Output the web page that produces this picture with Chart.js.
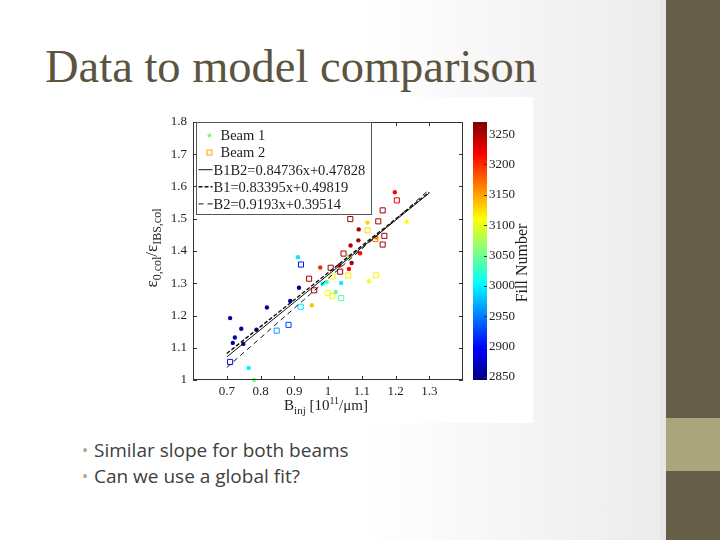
<!DOCTYPE html>
<html>
<head>
<meta charset="utf-8">
<title>Data to model comparison</title>
<script src="https://cdn.jsdelivr.net/npm/chart.js@4.4.1/dist/chart.umd.min.js"></script>
<style>
  html, body { margin: 0; padding: 0; }
  body { width: 720px; height: 540px; overflow: hidden; background: #fff; }
  #slide { position: relative; width: 720px; height: 540px; }
  #fundo { position: absolute; left: 0; top: 0; width: 660px; height: 540px;
    background: linear-gradient(to right, #ffffff 0%, #ffffff 55%, #ececec 100%); }
  #faixa { position: absolute; left: 660px; top: 0; width: 6px; height: 540px; background: #e6e6e6; }
  #lateral { position: absolute; left: 666px; top: 0; width: 54px; height: 540px; background: #665e48; }
  #lateralClara { position: absolute; left: 666px; top: 418px; width: 54px; height: 53px; background: #a9a67e; }
  h1 { position: absolute; left: 45px; top: 44px; margin: 0; font: 400 46.5px/46px 'Liberation Serif', serif;
    color: #5c5440; white-space: nowrap; }
  #figura { position: absolute; left: 140px; top: 97px; width: 393px; height: 326px; background: #fff; }
  #grafico { position: absolute; left: 0; top: 0; }
  #barraCor { position: absolute; left: 330px; top: 0; }
  .item { position: absolute; left: 94px; font: 19px/26px 'Open Sans', sans-serif; color: #404040; white-space: nowrap; }
  .item span { position: absolute; left: -12px; top: 0; color: #a8a48c; font-size: 16px; }
</style>
</head>
<body>
<div id="slide">
  <div id="fundo"></div>
  <div id="faixa"></div>
  <div id="lateral"></div>
  <div id="lateralClara"></div>
  <h1>Data to model comparison</h1>
  <div id="figura">
    <canvas id="grafico" width="330" height="326"></canvas>
    <canvas id="barraCor" width="67" height="326"></canvas>
  </div>
  <div class="item" style="top:437px"><span>•</span>Similar slope for both beams</div>
  <div class="item" style="top:463px"><span>•</span>Can we use a global fit?</div>
</div>
<script>
// Beam 1 (pontos cheios)
const beam1X = [0.710, 0.718, 0.724, 0.743, 0.749, 0.788, 0.819, 0.888, 0.914, 0.911, 0.765, 0.781,
  0.952, 0.977, 0.984, 0.996, 1.023, 1.039, 1.034, 1.062, 1.067, 1.070, 1.090, 1.091, 1.095, 1.117,
  1.121, 1.143, 1.198, 1.233, 1.061];
const beam1Y = [1.192, 1.115, 1.132, 1.159, 1.112, 1.156, 1.225, 1.245, 1.286, 1.381, 1.037, 1.000,
  1.232, 1.349, 1.298, 1.304, 1.273, 1.301, 1.355, 1.344, 1.417, 1.363, 1.433, 1.467, 1.393, 1.488,
  1.306, 1.442, 1.582, 1.491, 1.383];
const beam1Fill = [2855, 2855, 2860, 2855, 2855, 2855, 2855, 2860, 2855, 2995, 3000, 3055,
  3135, 3200, 3005, 3030, 3045, 3000, 3250, 3215, 3255, 3255, 3250, 3255, 3215, 3130,
  3105, 3165, 3215, 3110, 3085];

// Beam 2 (quadrados vazios)
const beam2X = [0.710, 0.848, 0.883, 0.919, 0.920, 0.944, 0.959, 0.999, 1.013, 1.039, 1.008, 1.036,
  1.013, 1.060, 1.142, 1.046, 1.066, 1.117, 1.149, 1.162, 1.167, 1.162, 1.204, 1.140];
const beam2Y = [1.056, 1.153, 1.171, 1.227, 1.358, 1.314, 1.278, 1.270, 1.261, 1.254, 1.348, 1.336,
  1.321, 1.324, 1.325, 1.392, 1.499, 1.464, 1.492, 1.526, 1.447, 1.420, 1.557, 1.437];
const beam2Fill = [2905, 2965, 2925, 2995, 2905, 3255, 3255, 3110, 3115, 3040, 3255, 3255,
  3115, 3120, 3115, 3255, 3255, 3125, 3250, 3255, 3255, 3255, 3225, 3170];

// Ajustes lineares (da legenda)
const fitNames = ['B1B2=0.84736x+0.47828', 'B1=0.83395x+0.49819', 'B2=0.9193x+0.39514'];
const fitSlopes = [0.84736, 0.83395, 0.9193];
const fitIntercepts = [0.47828, 0.49819, 0.39514];
const fitRange = [0.7, 1.3];

// Eixos
const xTicks = [0.7, 0.8, 0.9, 1, 1.1, 1.2, 1.3];
const yTicks = [1, 1.1, 1.2, 1.3, 1.4, 1.5, 1.6, 1.7, 1.8];
const fillTicks = [2850, 2900, 2950, 3000, 3050, 3100, 3150, 3200, 3250];
const fillMin = 2845;
const fillMax = 3270;

const serif = "'Liberation Serif', 'Times New Roman', serif";
const corTexto = '#1e1e1e';

// Mapa de cores "jet" do MATLAB
function jetT(t) {
    t = Math.max(0, Math.min(1, t));
    const c = v => Math.round(255 * Math.max(0, Math.min(1, v)));
    return `rgb(${c(1.5 - Math.abs(4 * t - 3))},${c(1.5 - Math.abs(4 * t - 2))},${c(1.5 - Math.abs(4 * t - 1))})`;
}
function corJet(fill) {
    return jetT((fill - fillMin) / (fillMax - fillMin));
}

// Texto com subscritos/sobrescritos
function desenharTexto(ctx, partes, x, y) {
    let largura = 0;
    partes.forEach(p => { ctx.font = `${p.size}px ${serif}`; largura += ctx.measureText(p.t).width; });
    let cx = x - largura / 2;
    partes.forEach(p => {
        ctx.font = `${p.size}px ${serif}`;
        ctx.fillText(p.t, cx, y + (p.dy || 0));
        cx += ctx.measureText(p.t).width;
    });
}

const fitDash = [[], [4, 2], [5, 4]];
const fitWidth = [1, 1.4, 1];

// Moldura, marcas, títulos e legenda no estilo MATLAB
const molduraMatlab = {
    id: 'molduraMatlab',
    afterDraw(chart) {
        const { ctx, chartArea: a, scales: { x, y } } = chart;
        ctx.save();
        ctx.strokeStyle = '#333';
        ctx.lineWidth = 1;
        ctx.strokeRect(a.left + 0.5, a.top + 0.5, a.width - 1, a.height - 1);
        ctx.beginPath();
        xTicks.forEach(v => {
            const px = Math.round(x.getPixelForValue(v)) + 0.5;
            ctx.moveTo(px, a.bottom); ctx.lineTo(px, a.bottom - 4);
            ctx.moveTo(px, a.top); ctx.lineTo(px, a.top + 4);
        });
        yTicks.forEach(v => {
            const py = Math.round(y.getPixelForValue(v)) + 0.5;
            ctx.moveTo(a.left, py); ctx.lineTo(a.left + 4, py);
            ctx.moveTo(a.right, py); ctx.lineTo(a.right - 4, py);
        });
        ctx.stroke();

        // títulos dos eixos
        ctx.fillStyle = corTexto;
        ctx.textBaseline = 'alphabetic';
        ctx.textAlign = 'left';
        desenharTexto(ctx, [
            { t: 'B', size: 15 }, { t: 'inj', size: 11, dy: 4 }, { t: ' [10', size: 15 },
            { t: '11', size: 10, dy: -6 }, { t: '/\u03bcm]', size: 15 }
        ], (a.left + a.right) / 2 - 2, 313);
        ctx.save();
        ctx.translate(17, 151);
        ctx.rotate(-Math.PI / 2);
        desenharTexto(ctx, [
            { t: '\u03b5', size: 17 }, { t: '0,col', size: 12, dy: 4 }, { t: '/', size: 17 },
            { t: '\u03b5', size: 17 }, { t: 'IBS,col', size: 12, dy: 4 }
        ], 0, 0);
        ctx.restore();

        // legenda
        const lx = a.left + 3.5, ly = a.top + 0.5, lw = 175, lh = 92;
        ctx.fillStyle = '#fff';
        ctx.fillRect(lx, ly, lw, lh);
        ctx.strokeStyle = '#555';
        ctx.strokeRect(lx, ly, lw, lh);
        const rotulos = ['Beam 1', 'Beam 2', ...fitNames];
        rotulos.forEach((r, i) => {
            const yy = ly + 13 + i * 17.1;
            if (i === 0) {
                ctx.fillStyle = corJet(3057);
                ctx.beginPath(); ctx.arc(lx + 13, yy, 2, 0, Math.PI * 2); ctx.fill();
            } else if (i === 1) {
                ctx.strokeStyle = corJet(3150); ctx.lineWidth = 1; ctx.setLineDash([]);
                ctx.strokeRect(lx + 10.5, yy - 2.5, 5, 5);
            } else {
                ctx.strokeStyle = '#111'; ctx.lineWidth = fitWidth[i - 2];
                ctx.setLineDash(fitDash[i - 2]);
                ctx.beginPath(); ctx.moveTo(lx + 2, yy); ctx.lineTo(lx + 16, yy); ctx.stroke();
                ctx.setLineDash([]);
            }
            ctx.fillStyle = corTexto;
            ctx.font = `14.5px ${serif}`;
            ctx.textBaseline = 'middle';
            ctx.textAlign = 'left';
            ctx.fillText(r, lx + (i < 2 ? 24 : 17), yy + 1);
        });
        ctx.restore();
    }
};

const fonteTicks = { family: serif, size: 13 };

new Chart(document.getElementById('grafico'), {
    type: 'scatter',
    data: {
        datasets: [
            ...fitNames.map((nome, i) => ({
                label: nome,
                data: fitRange.map(x => ({ x: x, y: fitSlopes[i] * x + fitIntercepts[i] })),
                showLine: true,
                borderColor: '#111',
                borderWidth: fitWidth[i],
                borderDash: fitDash[i],
                pointRadius: 0,
                order: 0
            })),
            {
                label: 'Beam 1',
                data: beam1X.map((x, i) => ({ x: x, y: beam1Y[i] })),
                pointStyle: 'circle',
                pointRadius: 2.2,
                backgroundColor: beam1Fill.map(corJet),
                borderWidth: 0,
                clip: 6,
                order: 1
            },
            {
                label: 'Beam 2',
                data: beam2X.map((x, i) => ({ x: x, y: beam2Y[i] })),
                pointStyle: 'rect',
                pointRadius: 3.6,
                backgroundColor: 'rgba(0,0,0,0)',
                borderColor: beam2Fill.map(corJet),
                borderWidth: 1,
                clip: 6,
                order: 1
            }
        ]
    },
    options: {
        responsive: false,
        animation: false,
        events: [],
        layout: { padding: { top: 25, right: 7, left: 0, bottom: 0 } },
        plugins: { legend: { display: false }, tooltip: { enabled: false } },
        scales: {
            x: {
                type: 'linear', min: 0.6, max: 1.4,
                afterBuildTicks: s => { s.ticks = xTicks.map(v => ({ value: v })); },
                afterFit: s => { s.height = 43; },
                grid: { display: false, drawTicks: false },
                border: { display: false },
                ticks: { font: fonteTicks, color: corTexto, padding: 4, maxRotation: 0, autoSkip: false, callback: v => String(v) }
            },
            y: {
                type: 'linear', min: 1, max: 1.8,
                afterBuildTicks: s => { s.ticks = yTicks.map(v => ({ value: v })); },
                afterFit: s => { s.width = 53; },
                grid: { display: false, drawTicks: false },
                border: { display: false },
                ticks: { font: fonteTicks, color: corTexto, padding: 6, autoSkip: false, callback: v => String(v) }
            }
        }
    },
    plugins: [molduraMatlab]
});

// Barra de cores (Fill Number)
function gradienteJet(chart) {
    const a = chart.chartArea;
    if (!a) return '#000';
    const g = chart.ctx.createLinearGradient(0, a.bottom, 0, a.top);
    for (let i = 0; i <= 8; i++) g.addColorStop(i / 8, jetT(i / 8));
    return g;
}

const rotuloBarra = {
    id: 'rotuloBarra',
    afterDraw(chart) {
        const { ctx, chartArea: a, scales: { y } } = chart;
        ctx.save();
        ctx.strokeStyle = '#333';
        ctx.beginPath();
        fillTicks.forEach(v => {
            const py = Math.round(y.getPixelForValue(v)) + 0.5;
            ctx.moveTo(a.right, py); ctx.lineTo(a.right - 3, py);
        });
        ctx.stroke();
        ctx.translate(53, 166);
        ctx.rotate(-Math.PI / 2);
        ctx.fillStyle = corTexto;
        ctx.font = `16px ${serif}`;
        ctx.textAlign = 'center';
        ctx.textBaseline = 'middle';
        ctx.fillText('Fill Number', 0, 0);
        ctx.restore();
    }
};

new Chart(document.getElementById('barraCor'), {
    type: 'bar',
    data: {
        labels: [''],
        datasets: [{
            data: [[fillMin, fillMax]],
            backgroundColor: ctx => gradienteJet(ctx.chart),
            borderWidth: 0,
            barPercentage: 1,
            categoryPercentage: 1
        }]
    },
    options: {
        responsive: false,
        animation: false,
        events: [],
        layout: { padding: { left: 3, top: 25, bottom: 43, right: 0 } },
        plugins: { legend: { display: false }, tooltip: { enabled: false } },
        scales: {
            x: { display: false },
            y: {
                position: 'right', min: fillMin, max: fillMax,
                afterBuildTicks: s => { s.ticks = fillTicks.map(v => ({ value: v })); },
                afterFit: s => { s.width = 50; },
                grid: { display: false, drawTicks: false },
                border: { display: false },
                ticks: { font: fonteTicks, color: corTexto, padding: 2, callback: v => String(v) }
            }
        }
    },
    plugins: [rotuloBarra]
});
</script>
</body>
</html>
